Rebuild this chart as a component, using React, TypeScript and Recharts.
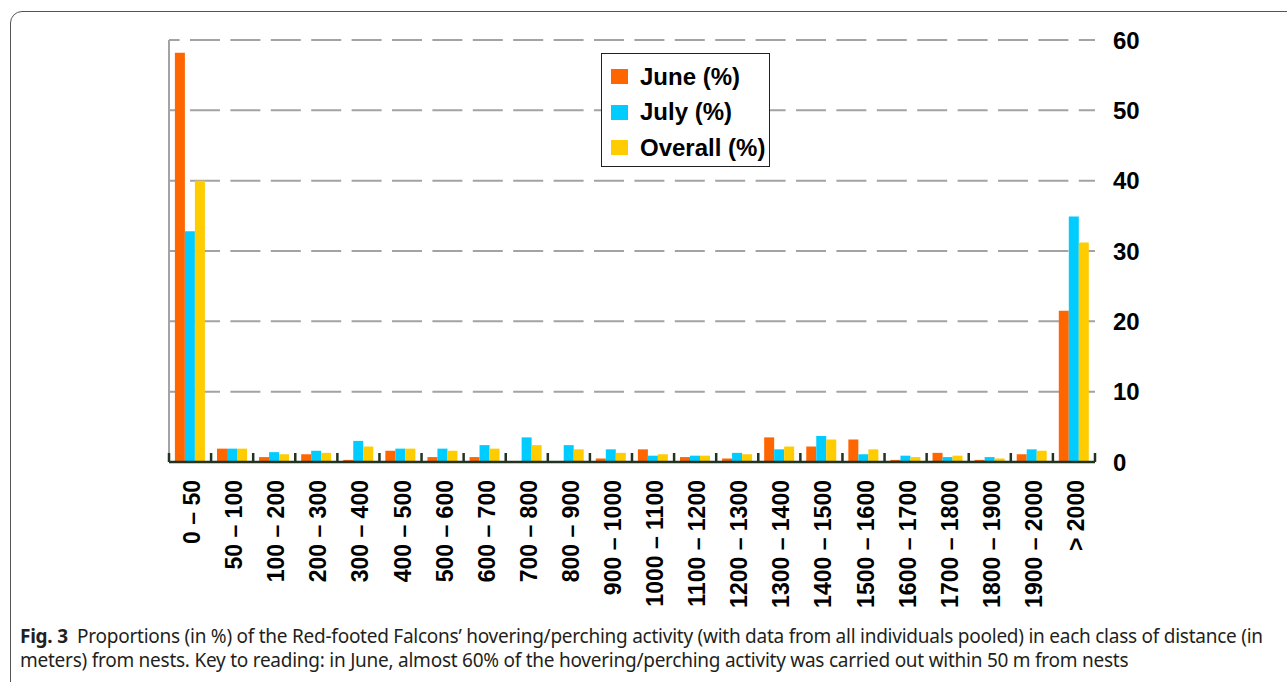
import React from 'react';
import { BarChart, Bar, XAxis, YAxis, CartesianGrid, Legend } from 'recharts';

const categories = [
  '0 – 50', '50 – 100', '100 – 200', '200 – 300', '300 – 400', '400 – 500',
  '500 – 600', '600 – 700', '700 – 800', '800 – 900', '900 – 1000', '1000 – 1100',
  '1100 – 1200', '1200 – 1300', '1300 – 1400', '1400 – 1500', '1500 – 1600',
  '1600 – 1700', '1700 – 1800', '1800 – 1900', '1900 – 2000', '> 2000',
];
const june = [58.2, 1.9, 0.7, 1.1, 0.3, 1.6, 0.7, 0.7, 0, 0, 0.5, 1.8, 0.7, 0.5, 3.5, 2.2, 3.2, 0.3, 1.3, 0.3, 1.1, 21.5];
const july = [32.8, 1.9, 1.4, 1.6, 3.0, 1.9, 1.9, 2.4, 3.5, 2.4, 1.8, 0.9, 0.9, 1.3, 1.8, 3.7, 1.1, 0.9, 0.7, 0.7, 1.8, 34.9];
const overall = [40.0, 1.9, 1.1, 1.3, 2.2, 1.9, 1.6, 1.9, 2.4, 1.8, 1.3, 1.1, 0.9, 1.1, 2.2, 3.2, 1.8, 0.7, 0.9, 0.5, 1.6, 31.2];
const yTicks = [0, 10, 20, 30, 40, 50, 60];

const seriesNames = ['June (%)', 'July (%)', 'Overall (%)'];
const COLORS = ['#ff6600', '#00ccff', '#ffcc00'];
const AXIS_COLOR = '#223322';
const FONT = '"Liberation Sans", Arial, sans-serif';

const data = categories.map((c, i) => ({
  name: c,
  june: june[i],
  july: july[i],
  overall: overall[i],
}));

const CHART_W = 1287;
const MARGIN = { top: 40, right: 112, bottom: 28, left: 168 };
const PLOT_W = CHART_W - MARGIN.left - MARGIN.right - 80 - 1;

function XTick(props: any) {
  const { x, y, payload, index } = props;
  const half = payload && payload.offset ? payload.offset : PLOT_W / categories.length / 2;
  const last = index === categories.length - 1;
  return (
    <g>
      <line x1={x - half} x2={x - half} y1={y} y2={y - 9} stroke={AXIS_COLOR} strokeWidth={2.5} />
      {last && <line x1={x + half} x2={x + half} y1={y} y2={y - 9} stroke={AXIS_COLOR} strokeWidth={2.5} />}
      <text
        x={x + 2}
        y={y + 18}
        transform={`rotate(-90, ${x + 2}, ${y + 18})`}
        textAnchor="end"
        dominantBaseline="central"
        fill="#000"
        fontSize={23}
        fontWeight="bold"
        fontFamily={FONT}
      >
        {payload.value}
      </text>
    </g>
  );
}

function LegendBox() {
  return (
    <div
      style={{
        width: 169,
        height: 114,
        border: '1.5px solid #222',
        background: '#fff',
        boxSizing: 'border-box',
        paddingTop: 5,
      }}
    >
      {seriesNames.map((s, i) => (
        <div key={s} style={{ display: 'flex', alignItems: 'center', height: 35.5, paddingLeft: 9 }}>
          <span style={{ width: 17, height: 15, background: COLORS[i], display: 'inline-block', marginRight: 12 }} />
          <span style={{ fontFamily: FONT, fontWeight: 'bold', fontSize: 24, color: '#000' }}>{s}</span>
        </div>
      ))}
    </div>
  );
}

export default function App() {
  return (
    <div style={{ position: 'absolute', left: 0, top: 0, width: 1287, height: 682, overflow: 'hidden', background: '#fff' }}>
      <div
        style={{
          position: 'absolute',
          left: 10,
          top: 11,
          width: 1320,
          height: 700,
          border: '1px solid #555',
          borderRadius: 12,
        }}
      />
      <div style={{ position: 'absolute', left: 0, top: 0 }}>
        <BarChart
          width={CHART_W}
          height={620}
          data={data}
          margin={MARGIN}
          barCategoryGap="14%"
          barGap={0}
        >
          <CartesianGrid
            vertical={false}
            stroke="#a3a3a3"
            strokeWidth={2}
            strokeDasharray="30 10.4"
            strokeDashoffset={-21}
          />
          <XAxis
            dataKey="name"
            interval={0}
            height={130}
            tickSize={0}
            tickMargin={0}
            tickLine={false}
            axisLine={{ stroke: AXIS_COLOR, strokeWidth: 2.5 }}
            tick={<XTick />}
          />
          <YAxis
            yAxisId="left"
            orientation="left"
            width={1}
            domain={[0, 60]}
            tick={false}
            tickLine={false}
            axisLine={{ stroke: '#a3a3a3', strokeWidth: 2 }}
          />
          <YAxis
            orientation="right"
            width={80}
            domain={[0, 60]}
            ticks={yTicks}
            tickSize={0}
            tickMargin={18}
            axisLine={false}
            tickLine={false}
            tick={{ fill: '#000', fontSize: 24, fontWeight: 'bold', fontFamily: FONT }}
          />
          <Legend
            layout="vertical"
            align="center"
            verticalAlign="middle"
            wrapperStyle={{ left: 601, top: 53, width: 169 }}
            content={<LegendBox />}
          />
          <Bar dataKey="june" name={seriesNames[0]} fill={COLORS[0]} isAnimationActive={false} />
          <Bar dataKey="july" name={seriesNames[1]} fill={COLORS[1]} isAnimationActive={false} />
          <Bar dataKey="overall" name={seriesNames[2]} fill={COLORS[2]} isAnimationActive={false} />
        </BarChart>
      </div>
      <div
        style={{
          position: 'absolute',
          left: 20,
          top: 624,
          fontFamily: '"Noto Sans", sans-serif',
          fontSize: 19,
          lineHeight: '24px',
          color: '#231f20',
          whiteSpace: 'nowrap',
          letterSpacing: -0.25,
        }}
      >
        <div>
          <b>Fig. 3</b>{'\u2002'}Proportions (in %) of the Red-footed Falcons’ hovering/perching activity (with data from all individuals pooled) in each class of distance (in
        </div>
        <div>
          meters) from nests. Key to reading: in June, almost 60% of the hovering/perching activity was carried out within 50 m from nests
        </div>
      </div>
    </div>
  );
}
